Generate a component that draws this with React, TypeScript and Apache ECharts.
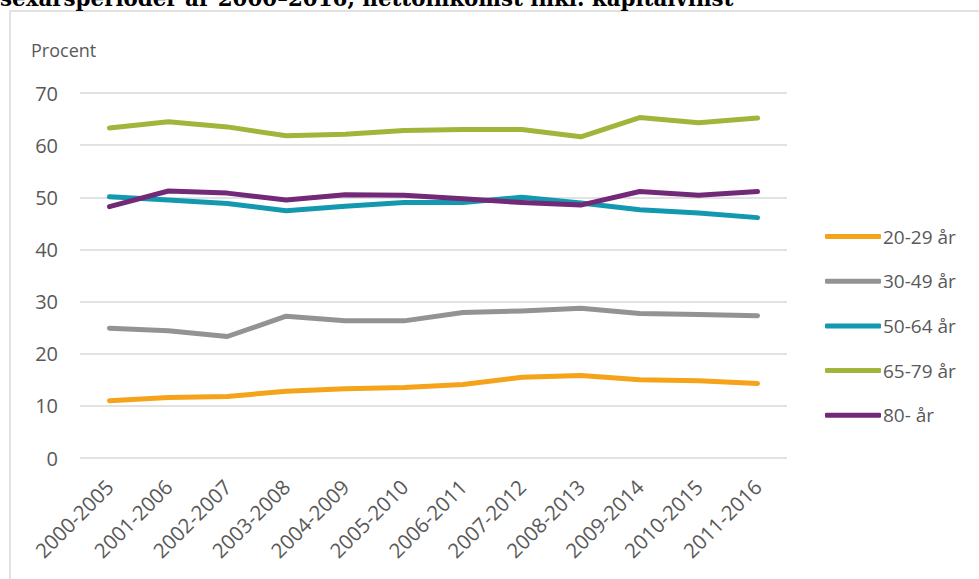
import React, { useEffect, useRef } from "react";
import * as echarts from "echarts";

const categories = [
  "2000-2005", "2001-2006", "2002-2007", "2003-2008", "2004-2009", "2005-2010",
  "2006-2011", "2007-2012", "2008-2013", "2009-2014", "2010-2015", "2011-2016",
];
const age20_29 = [11.0, 11.6, 11.8, 12.8, 13.3, 13.5, 14.1, 15.5, 15.8, 15.0, 14.8, 14.3];
const age30_49 = [24.9, 24.4, 23.3, 27.2, 26.3, 26.3, 27.9, 28.2, 28.7, 27.7, 27.5, 27.3];
const age50_64 = [50.1, 49.5, 48.8, 47.4, 48.3, 49.0, 49.0, 50.0, 48.9, 47.6, 47.0, 46.1];
const age65_79 = [63.3, 64.5, 63.5, 61.8, 62.1, 62.8, 63.0, 63.0, 61.6, 65.3, 64.3, 65.2];
const age80 = [48.2, 51.2, 50.8, 49.5, 50.5, 50.4, 49.7, 49.0, 48.5, 51.1, 50.4, 51.1];

const seriesNames = ["20-29 år", "30-49 år", "50-64 år", "65-79 år", "80- år"];
const seriesColors = ["#F5A31B", "#939393", "#1299AF", "#A3B43A", "#722977"];
const seriesData = [age20_29, age30_49, age50_64, age65_79, age80];

const titleText = "sexårsperioder år 2000–2016, nettoinkomst inkl. kapitalvinst";
const yAxisTitle = "Procent";

const FONT = "'Open Sans', sans-serif";

export default function App() {
  const ref = useRef<HTMLDivElement>(null);
  useEffect(() => {
    if (!ref.current) return;
    const chart = echarts.init(ref.current, undefined, { renderer: "svg" });
    chart.setOption({
      animation: false,
      backgroundColor: "#ffffff",
      grid: { left: 80, right: 192, top: 93, bottom: 121, containLabel: false },
      graphic: [
        {
          type: "rect",
          shape: { x: 10, y: 11, width: 1000, height: 600 },
          style: { fill: "none", stroke: "#D9D9D9", lineWidth: 1.5 },
          silent: true,
        },
        {
          type: "text",
          x: 0,
          y: -2,
          style: {
            text: titleText,
            font: "bold 21.4px 'DejaVu Serif', serif",
            fill: "#000000",
            verticalAlign: "middle",
          },
        },
        {
          type: "text",
          x: 31,
          y: 50,
          style: {
            text: yAxisTitle,
            font: `18px ${FONT}`,
            fill: "#595959",
            verticalAlign: "middle",
          },
        },
      ],
      legend: {
        orient: "vertical",
        left: 820,
        top: 222,
        itemWidth: 56,
        itemHeight: 5,
        itemGap: 25.7,
        icon: "roundRect",
        textStyle: { fontFamily: FONT, fontSize: 19, color: "#595959", padding: [0, 0, 0, -3] },
        data: seriesNames,
      },
      xAxis: {
        type: "category",
        data: categories,
        boundaryGap: true,
        axisLine: { show: false },
        axisTick: { show: false },
        axisLabel: {
          rotate: 45,
          interval: 0,
          margin: 25,
          fontFamily: FONT,
          fontSize: 20.5,
          color: "#595959",
        },
      },
      yAxis: {
        type: "value",
        min: 0,
        max: 70,
        interval: 10,
        axisLine: { show: false },
        axisTick: { show: false },
        axisLabel: { fontFamily: FONT, fontSize: 20, color: "#595959", margin: 22 },
        splitLine: { lineStyle: { color: "#D9D9D9", width: 1.5 } },
      },
      series: seriesNames.map((name, i) => ({
        name,
        type: "line",
        data: seriesData[i],
        symbol: "none",
        color: seriesColors[i],
        lineStyle: { width: 5, color: seriesColors[i], cap: "round", join: "round" },
      })),
    });
    return () => chart.dispose();
  }, []);
  return (
    <div
      ref={ref}
      style={{ position: "absolute", left: 0, top: 0, width: 979, height: 579 }}
    />
  );
}
